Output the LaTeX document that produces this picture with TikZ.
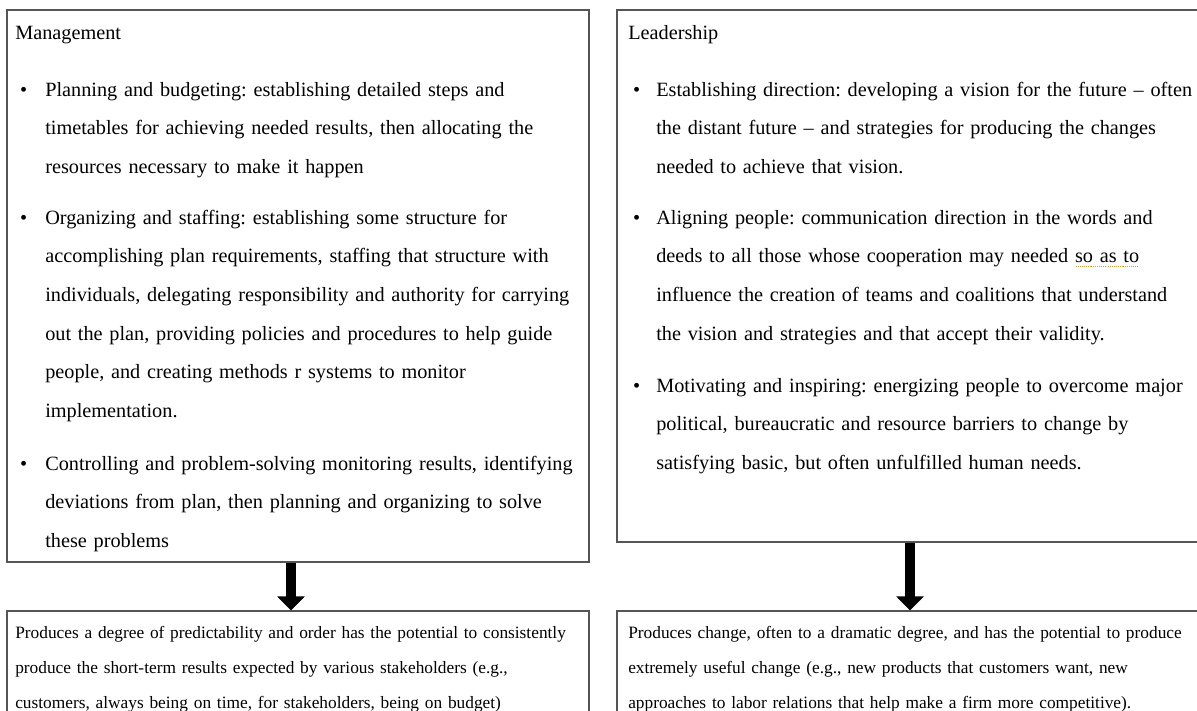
\documentclass[tikz,border=0pt]{standalone}
\usepackage{fontspec}
\setmainfont{Liberation Serif}
\usetikzlibrary{arrows.meta,fit}
\frenchspacing
\definecolor{framegray}{HTML}{555555}
\definecolor{grammarmark}{HTML}{C8A040}
% dotted grammar-check underline
\newcommand\dottedmark[1]{\setbox0\hbox{#1}\rlap{\copy0}\raisebox{-3pt}{\color{grammarmark}\leaders\hbox to 1.6pt{\hss\rule{0.8pt}{0.8pt}\hss}\hskip\wd0}}
\newcommand\lbul{\llap{\textbullet\hspace{13.5pt}}}
\newcommand\rbul{\llap{\textbullet\hspace{12pt}}}
\tikzset{
  frame/.style={draw=framegray, line width=0.8pt, inner sep=0pt},
  bodytext/.style={anchor=base west, inner sep=0pt, align=left, text width=520pt,
    font=\fontsize{15.2}{29}\selectfont},
  smalltext/.style={anchor=base west, inner sep=0pt, align=left, text width=520pt,
    font=\fontsize{13}{26.25}\selectfont},
  bigarrow/.style={line width=7.5pt, -{Triangle[width=20pt,length=10.5pt]}},
}
\begin{document}
\begin{tikzpicture}[x=0.75pt,y=-0.75pt]
\useasboundingbox (0,0) rectangle (1197,711);
\fill[white] (0,0) rectangle (1197,711);
\clip (0,0) rectangle (1197,711);

% frames
\node[frame, fit={(7,10) (589,562)}] (mgmt) {};
\node[frame, fit={(617,10) (1210,542)}] (lead) {};
\node[frame, fit={(7,611) (589,730)}] (mgmtout) {};
\node[frame, fit={(617,611) (1210,730)}] (leadout) {};

% management column
\node[bodytext] (mhead) at (15,39) {Management};
\node[bodytext] (m1) at (45,96) {\lbul Planning and budgeting: establishing detailed steps and\\
timetables for achieving needed results, then allocating the\\
resources necessary to make it happen};
\node[bodytext] (m2) at (45,224) {\lbul Organizing and staffing: establishing some structure for\\
accomplishing plan requirements, staffing that structure with\\
individuals, delegating responsibility and authority for carrying\\
out the plan, providing policies and procedures to help guide\\
people, and creating methods r systems to monitor\\
implementation.};
\node[bodytext] (m3) at (45,470) {\lbul Controlling and problem-solving monitoring results, identifying\\
deviations from plan, then planning and organizing to solve\\
these problems};

% leadership column
\node[bodytext] (lhead) at (628,39) {Leadership};
\node[bodytext] (l1) at (656,96) {\rbul Establishing direction: developing a vision for the future -- often\\
the distant future -- and strategies for producing the changes\\
needed to achieve that vision.};
\node[bodytext] (l2) at (656,224) {\rbul Aligning people: communication direction in the words and\\
deeds to all those whose cooperation may needed \dottedmark{so as to}\\
influence the creation of teams and coalitions that understand\\
the vision and strategies and that accept their validity.};
\node[bodytext] (l3) at (656,392) {\rbul Motivating and inspiring: energizing people to overcome major\\
political, bureaucratic and resource barriers to change by\\
satisfying basic, but often unfulfilled human needs.};

% outcomes
\node[smalltext] (mres) at (15,638) {Produces a degree of predictability and order has the potential to consistently\\
produce the short-term results expected by various stakeholders (e.g.,\\
customers, always being on time, for stakeholders, being on budget)};
\node[smalltext] (lres) at (628,638) {Produces change, often to a dramatic degree, and has the potential to produce\\
extremely useful change (e.g., new products that customers want, new\\
approaches to labor relations that help make a firm more competitive).};

% arrows
\draw[bigarrow] (mgmt.south -| 291,0) -- (mgmtout.north -| 291,0);
\draw[bigarrow] (lead.south -| 910,0) -- (leadout.north -| 910,0);
\end{tikzpicture}
\end{document}
